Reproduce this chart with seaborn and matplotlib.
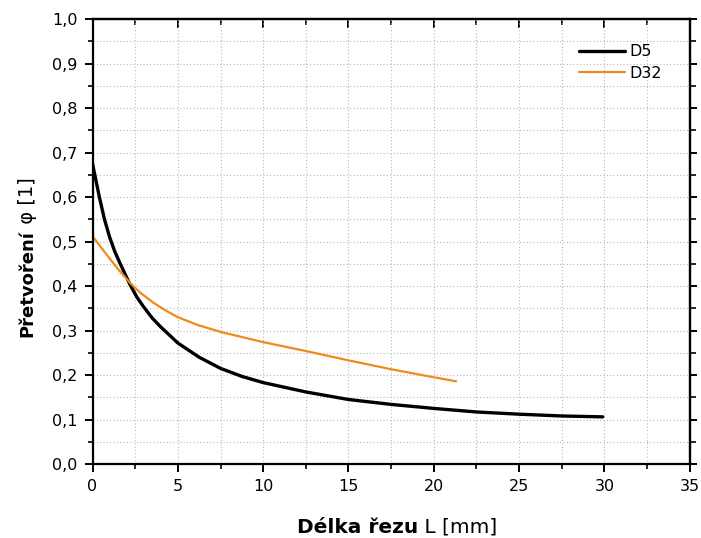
import numpy as np
import pandas as pd
import matplotlib
matplotlib.use("Agg")
import matplotlib.pyplot as plt
from matplotlib.ticker import MultipleLocator, FuncFormatter
import seaborn as sns

# Cut length L [mm] and strain phi [1] for the two specimens
d5_length = [0, 0.4, 0.7, 1.0, 1.3, 1.6, 2.2, 2.6, 3.0, 3.5, 4.0, 5.0, 6.25,
             7.5, 8.75, 10.0, 12.5, 15.0, 17.5, 20.0, 22.5, 25.0, 27.5, 29.9]
d5_strain = [0.675, 0.60, 0.55, 0.51, 0.478, 0.452, 0.403, 0.375, 0.353,
             0.328, 0.308, 0.272, 0.24, 0.215, 0.197, 0.183, 0.162, 0.145,
             0.134, 0.125, 0.117, 0.112, 0.108, 0.106]

d32_length = [0, 0.5, 1.0, 1.5, 2.2, 2.8, 3.55, 4.2, 5.0, 6.2, 7.5, 10.0,
              12.5, 15.0, 17.5, 20.0, 21.3]
d32_strain = [0.512, 0.487, 0.462, 0.438, 0.407, 0.385, 0.363, 0.347, 0.33,
              0.312, 0.297, 0.274, 0.254, 0.233, 0.213, 0.195, 0.186]

series_names = ["D5", "D32"]
x_label_bold = "Délka řezu"
x_label_rest = " L [mm]"
y_label_bold = "Přetvoření"
y_label_rest = " φ [1]"

df = pd.concat([
    pd.DataFrame({"L": d5_length, "phi": d5_strain, "vzorek": series_names[0]}),
    pd.DataFrame({"L": d32_length, "phi": d32_strain, "vzorek": series_names[1]}),
])

sns.set_theme(style="white")
plt.rcParams["font.family"] = ["DejaVu Sans"]
plt.rcParams["text.color"] = "black"

fig = plt.figure(figsize=(7.01, 5.38), dpi=100)
ax = fig.add_axes([0.132, 0.1375, 0.852, 0.827])

colors = {"D5": "#000000", "D32": "#ef8a1e"}
widths = {"D5": 2.4, "D32": 1.6}
for name in series_names:
    sns.lineplot(data=df[df["vzorek"] == name], x="L", y="phi", ax=ax,
                 color=colors[name], linewidth=widths[name], label=name,
                 estimator=None, sort=False)

ax.set_xlim(0, 35)
ax.set_ylim(0, 1.0)
ax.xaxis.set_major_locator(MultipleLocator(5))
ax.xaxis.set_minor_locator(MultipleLocator(2.5))
ax.yaxis.set_major_locator(MultipleLocator(0.1))
ax.yaxis.set_minor_locator(MultipleLocator(0.05))
ax.yaxis.set_major_formatter(FuncFormatter(lambda v, p: f"{v:.1f}".replace(".", ",")))
ax.xaxis.set_major_formatter(FuncFormatter(lambda v, p: f"{v:.0f}"))

ax.grid(which="both", color="#b8b8b8", linestyle=(0, (1, 2)), linewidth=0.8)
ax.set_axisbelow(True)

for s in ax.spines.values():
    s.set_visible(True)
    s.set_color("black")
    s.set_linewidth(1.6)

ax.tick_params(which="major", direction="out", length=6, width=1.4,
               labelsize=11.5, pad=5, colors="black", labelcolor="black",
               bottom=True, left=True)
ax.tick_params(which="minor", direction="out", length=3.5, width=1.2,
               colors="black", bottom=True, left=True)

# mirrored ticks: top pointing inward, right pointing outward
top = ax.secondary_xaxis("top")
top.xaxis.set_major_locator(MultipleLocator(5))
top.xaxis.set_minor_locator(MultipleLocator(2.5))
top.tick_params(which="major", direction="in", length=6.5, width=1.4,
                labeltop=False, colors="black")
top.tick_params(which="minor", direction="in", length=4.5, width=1.2, colors="black")
top.spines["top"].set_linewidth(1.6)
top.spines["top"].set_color("black")
right = ax.secondary_yaxis("right")
right.yaxis.set_major_locator(MultipleLocator(0.1))
right.yaxis.set_minor_locator(MultipleLocator(0.05))
right.tick_params(which="major", direction="out", length=5, width=1.4,
                  labelright=False, colors="black")
right.tick_params(which="minor", direction="out", length=4, width=1.2, colors="black")
right.spines["right"].set_linewidth(1.6)
right.spines["right"].set_color("black")

ax.set_xlabel("")
ax.set_ylabel("")

# axis titles with a bold first part and a regular second part
xb = ax.text(0.545, -0.155, x_label_bold, transform=ax.transAxes, ha="right",
             va="baseline", fontsize=14.5, fontweight="bold", color="black")
ax.annotate(x_label_rest, xy=(1, -0.155), xycoords=(xb, ax.transAxes),
            ha="left", va="baseline", fontsize=14.5, color="black")

yb = ax.text(-0.1, 0.285, y_label_bold, transform=ax.transAxes, rotation=90,
             rotation_mode="anchor", ha="left", va="baseline",
             fontsize=13, fontweight="bold", color="black")
ax.annotate(y_label_rest, xy=(-0.1, 1), xycoords=(ax.transAxes, yb),
            rotation=90, rotation_mode="anchor", ha="left", va="baseline",
            fontsize=14, color="black")

leg = ax.legend(loc="upper left", bbox_to_anchor=(0.814, 0.943), frameon=False,
                fontsize=11.5, handlelength=2.9, handletextpad=0.3,
                labelspacing=0.4, borderpad=0, borderaxespad=0)
for t in leg.get_texts():
    t.set_color("black")

fig.savefig("out.png", dpi=100)
